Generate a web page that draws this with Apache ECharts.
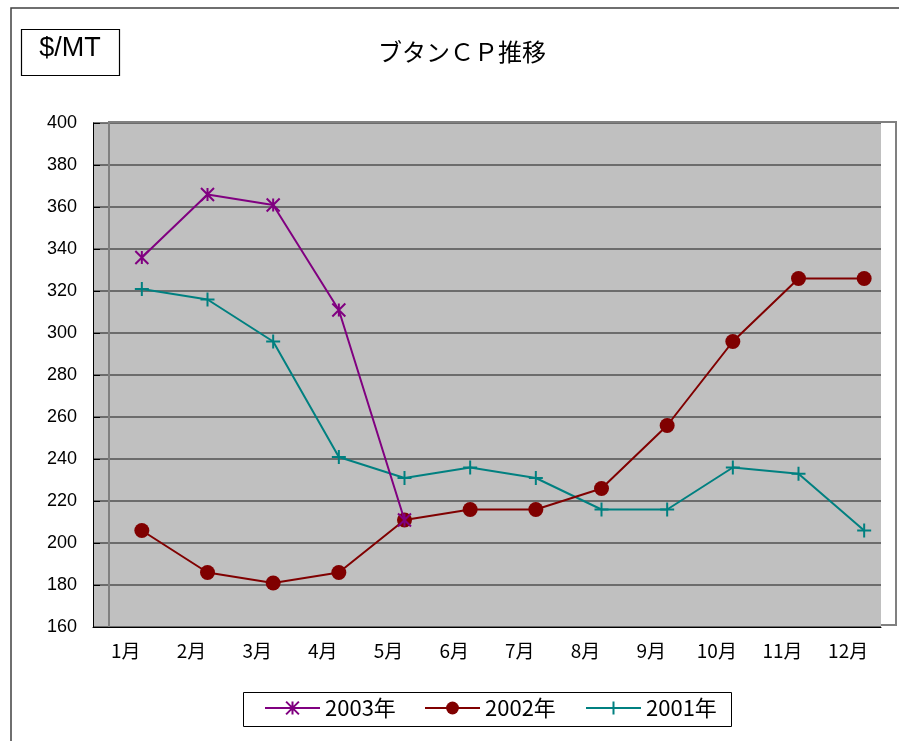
<!DOCTYPE html>
<html>
<head>
<meta charset="utf-8">
<script src="https://cdn.jsdelivr.net/npm/echarts@6/dist/echarts.min.js"></script>
<style>
  html, body { margin: 0; padding: 0; background: #fff; }
  #chart { width: 899px; height: 741px; }
</style>
</head>
<body>
<div id="chart"></div>
<script>
// 月ラベルと各年のブタンCP ($/MT)
const months = ['1月', '2月', '3月', '4月', '5月', '6月', '7月', '8月', '9月', '10月', '11月', '12月']
const cp2003 = [335, 365, 360, 310, 210]
const cp2002 = [205, 185, 180, 185, 210, 215, 215, 225, 255, 295, 325, 325]
const cp2001 = [320, 315, 295, 240, 230, 235, 230, 215, 215, 235, 232, 205]
const yTicks = { min: 160, max: 400, step: 20 }

const jpFont = '"Noto Sans CJK JP", sans-serif'
const latinFont = '"Liberation Sans", Arial, sans-serif'

const starPath = 'path://M0,0L10,10M0,10L10,0M5,0L5,10'
const plusPath = 'path://M0,5L10,5M5,0L5,10'

const chart = echarts.init(document.getElementById('chart'))

const legendBase = {
    top: 697,
    padding: 0,
    itemWidth: 55,
    itemHeight: 16,
    textStyle: { fontSize: 22, fontFamily: jpFont, color: '#000' },
    selectedMode: false
}

const option = {
    animation: false,
    backgroundColor: '#fff',
    title: {
        text: 'ブタンＣＰ推移',
        left: 378,
        top: 40,
        padding: 0,
        textStyle: { fontSize: 24, fontWeight: 'normal', fontFamily: jpFont, color: '#000' }
    },
    legend: [
        Object.assign({ left: 264, data: ['2003年'] }, legendBase),
        Object.assign({ left: 424, data: ['2002年'] }, legendBase),
        Object.assign({ left: 585, data: ['2001年'] }, legendBase)
    ],
    grid: [
        {
            // front plane with axes
            left: 93, right: 18, top: 123, bottom: 114,
            show: true, backgroundColor: '#c0c0c0', borderWidth: 0
        },
        {
            // back wall where the lines sit (depth offset)
            left: 109, right: 2, top: 121, bottom: 116,
            show: false
        }
    ],
    xAxis: [
        {
            gridIndex: 0,
            type: 'category',
            data: months,
            boundaryGap: true,
            axisLine: { lineStyle: { color: '#000', width: 1 } },
            axisTick: { inside: true, length: 5, lineStyle: { color: '#000' } },
            axisLabel: { color: '#000', fontSize: 19, fontFamily: jpFont, margin: 14 },
            splitLine: { show: false }
        },
        {
            gridIndex: 1,
            type: 'category',
            data: months,
            boundaryGap: true,
            show: false
        }
    ],
    yAxis: [
        {
            gridIndex: 0,
            type: 'value',
            min: yTicks.min,
            max: yTicks.max,
            interval: yTicks.step,
            axisLine: { show: true, lineStyle: { color: '#000', width: 1 } },
            axisTick: { show: true, inside: true, length: 7, lineStyle: { color: '#000' } },
            axisLabel: { color: '#000', fontSize: 18, fontFamily: latinFont, margin: 16 },
            splitLine: { show: true, lineStyle: { color: '#505050', width: 1.5 } }
        },
        {
            gridIndex: 1,
            type: 'value',
            min: yTicks.min,
            max: yTicks.max,
            interval: yTicks.step,
            show: false,
            splitLine: { show: false }
        }
    ],
    series: [
        {
            name: '2003年',
            type: 'line',
            xAxisIndex: 1,
            yAxisIndex: 1,
            data: cp2003,
            z: 4,
            symbol: starPath,
            symbolSize: 13,
            lineStyle: { color: '#800080', width: 2 },
            itemStyle: { color: '#800080', borderColor: '#800080', borderWidth: 2 }
        },
        {
            name: '2002年',
            type: 'line',
            xAxisIndex: 1,
            yAxisIndex: 1,
            data: cp2002,
            z: 3,
            symbol: 'circle',
            symbolSize: 15,
            lineStyle: { color: '#800000', width: 2 },
            itemStyle: { color: '#800000', borderWidth: 0 }
        },
        {
            name: '2001年',
            type: 'line',
            xAxisIndex: 1,
            yAxisIndex: 1,
            data: cp2001,
            z: 2,
            symbol: plusPath,
            symbolSize: 14,
            lineStyle: { color: '#008080', width: 2 },
            itemStyle: { color: '#008080', borderColor: '#008080', borderWidth: 2 }
        }
    ],
    graphic: [
        {
            type: 'rect',
            shape: { x: 11, y: 8, width: 1000, height: 1000 },
            style: { fill: 'none', stroke: '#404040', lineWidth: 1.5 },
            z: -10
        },
        {
            type: 'polyline',
            shape: { points: [[109, 627], [109, 122], [896, 122], [896, 625], [881, 625]] },
            style: { fill: 'none', stroke: '#808080', lineWidth: 2 },
            z: 1
        },
        {
            type: 'rect',
            shape: { x: 21.5, y: 29.5, width: 98, height: 46 },
            style: { fill: '#fff', stroke: '#000', lineWidth: 1.2 }
        },
        {
            type: 'text',
            x: 70,
            y: 49,
            style: {
                text: '$/MT',
                fontSize: 27,
                fontFamily: latinFont,
                fill: '#000',
                align: 'center',
                verticalAlign: 'middle'
            }
        },
        {
            type: 'rect',
            shape: { x: 243.5, y: 692.5, width: 488, height: 34 },
            style: { fill: 'none', stroke: '#000', lineWidth: 1 }
        }
    ]
}

chart.setOption(option)
</script>
</body>
</html>
